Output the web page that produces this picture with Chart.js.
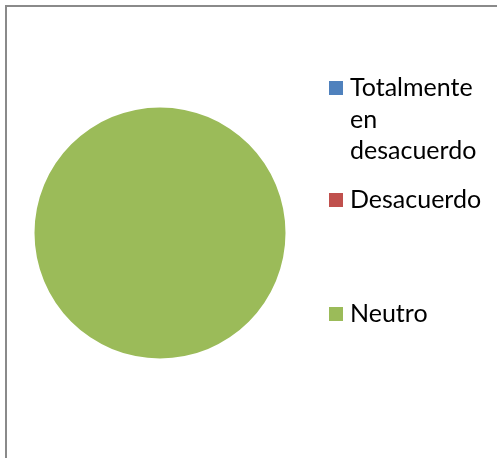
<!DOCTYPE html>
<html>
<head>
<meta charset="utf-8">
<script src="https://cdn.jsdelivr.net/npm/chart.js@4.4.1/dist/chart.umd.min.js"></script>
<style>
  html, body { margin: 0; padding: 0; background: #ffffff; overflow: hidden; }
  #wrap { position: relative; width: 497px; height: 458px; }
  #frame {
    position: absolute; left: 5px; top: 5px; width: 600px; height: 600px;
    border-left: 2px solid #8a8a8a; border-top: 2px solid #8a8a8a;
    box-sizing: border-box;
  }
  canvas { position: absolute; left: 0; top: 0; }
</style>
</head>
<body>
<div id="wrap">
  <div id="frame"></div>
  <canvas id="c" width="497" height="458"></canvas>
</div>
<script>
// Survey responses
const categories = ['Totalmente en desacuerdo', 'Desacuerdo', 'Neutro'];
const responses = [0, 0, 100];
const sliceColors = ['#4F81BD', '#C0504D', '#9BBB59'];

// Legend on the right: wrapped labels with a colour square per entry
const sideLegend = {
  id: 'sideLegend',
  afterDraw(chart) {
    const ctx = chart.ctx;
    const labels = chart.data.labels;
    const colors = chart.data.datasets[0].backgroundColor;
    const baselines = [96, 208, 322];
    const textX = 350, boxX = 329, box = 14, lineH = 31.7, maxW = 140;
    ctx.save();
    ctx.font = '25px Lato';
    ctx.textBaseline = 'alphabetic';
    ctx.textAlign = 'left';
    labels.forEach((label, i) => {
      const words = label.split(' ');
      const lines = [];
      let cur = '';
      words.forEach(w => {
        const t = cur ? cur + ' ' + w : w;
        if (cur && ctx.measureText(t).width > maxW) { lines.push(cur); cur = w; }
        else cur = t;
      });
      if (cur) lines.push(cur);
      const y0 = baselines[i];
      ctx.fillStyle = colors[i];
      ctx.fillRect(boxX, y0 - 15, box, box);
      ctx.fillStyle = '#000000';
      lines.forEach((ln, k) => ctx.fillText(ln, textX, y0 + k * lineH));
    });
    ctx.restore();
  }
};

new Chart(document.getElementById('c'), {
  type: 'pie',
  data: {
    labels: categories,
    datasets: [{
      data: responses,
      backgroundColor: sliceColors,
      borderWidth: 0
    }]
  },
  options: {
    responsive: false,
    animation: false,
    layout: { padding: { left: 34.5, right: 211.5, top: 107.5, bottom: 99.5 } },
    plugins: {
      legend: { display: false },
      tooltip: { enabled: false }
    }
  },
  plugins: [sideLegend]
});
</script>
</body>
</html>
